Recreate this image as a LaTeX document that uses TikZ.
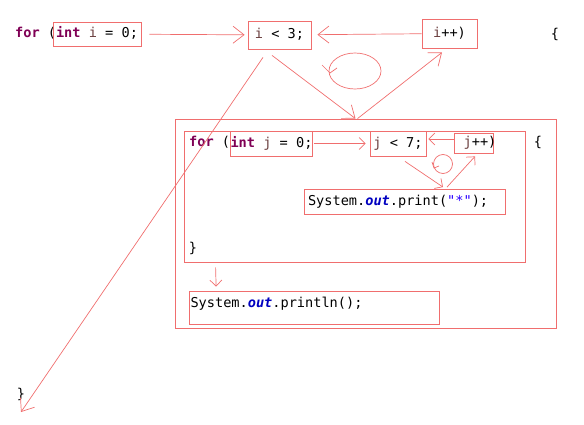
\documentclass[tikz,border=0pt]{standalone}
\usepackage{fontspec}
\setmonofont{DejaVu Sans Mono}
\usetikzlibrary{positioning,arrows.meta}
\definecolor{linered}{RGB}{240,110,110}
\definecolor{kwpurple}{HTML}{7F0055}
\definecolor{varbrown}{HTML}{6A3E3E}
\definecolor{fieldblue}{HTML}{0000C0}
\definecolor{strblue}{HTML}{2A00FF}
\newcommand{\kw}[1]{\textbf{\textcolor{kwpurple}{#1}}}
\newcommand{\jvar}[1]{\textcolor{varbrown}{#1}}
\newcommand{\fld}[1]{\textbf{\textit{\textcolor{fieldblue}{#1}}}}
\newcommand{\jstr}[1]{\textcolor{strblue}{#1}}

\begin{document}
\begin{tikzpicture}[x=1pt,y=-1pt,
  code/.style={font=\fontsize{13.6}{16}\selectfont\ttfamily,text height=11pt,text depth=3pt,inner sep=0pt},
  box/.style={code,draw=linered,line width=0.8pt},
  frame/.style={draw=linered,line width=0.8pt,inner sep=0pt},
  flow/.style={linered,line width=0.7pt,-{Straight Barb[length=11pt,width=17pt]}},
  subflow/.style={linered,line width=0.7pt,-{Straight Barb[length=6pt,width=12pt]}}]
\useasboundingbox (0,0) rectangle (584,425);
\node[frame,minimum width=381pt,minimum height=209pt] (outer) at (365.5,223.5) {};
\node[frame,minimum width=341pt,minimum height=130.5pt] (inner) at (354.5,196.75) {};
\node[code,anchor=west] (forI) at (15,34) {\kw{for} (};
\node[box,minimum width=88pt,minimum height=24pt] (initI) at (97,34) {\kw{int} \jvar{i} = 0;};
\node[box,minimum width=63pt,minimum height=28pt] (condI) at (279.5,35) {\jvar{i} < 3;};
\node[box,minimum width=55pt,minimum height=29pt] (incI) at (449.5,33.5) {\jvar{i}++)};
\node[code] (openI) at (555,35) {\{};
\node[code,anchor=west] (forJ) at (189,143) {\kw{for} (};
\node[box,minimum width=81pt,minimum height=25pt] (initJ) at (271.5,143.5) {\kw{int} \jvar{j} = 0;};
\node[box,minimum width=56pt,minimum height=25pt] (condJ) at (398,143.5) {\jvar{j} < 7;};
\node[frame,minimum width=39pt,minimum height=20pt] (incJ) at (473.5,143) {};
\node[code] (incJtxt) at (480,143) {\jvar{j}++)};
\node[code] (openJ) at (538,143) {\{};
\node[box,align=left,text width=193pt,inner xsep=4pt,minimum height=25pt] (printStar) at (404.5,201.5) {System.\fld{out}.print(\jstr{"*"});};
\node[code] (closeJ) at (193,248) {\}};
\node[box,align=left,text width=248pt,inner xsep=1pt,text depth=11pt,minimum height=33pt] (println) at (314.5,307.5) {System.\fld{out}.println();};
\node[code] (closeI) at (21,394) {\}};
\coordinate (exitI) at (21,412);
\draw[flow,shorten <=8pt,shorten >=3pt] (initI) -- (condI);
\draw[flow,shorten >=6pt] (incI) -- (condI);
\draw[flow] ([xshift=-7.5pt,yshift=-6pt]condI.south) -- ([xshift=-10pt]outer.north);
\draw[flow] ([xshift=-8pt]outer.north) -- ([xshift=-7.5pt,yshift=-4pt]incI.south);
\draw[flow] ([xshift=-16.5pt,yshift=-8pt]condI.south) -- (exitI);
\draw[linered,line width=0.7pt] (355,71) ellipse [x radius=26pt,y radius=18pt];
\draw[linered,line width=0.7pt] (322,65) -- (330,73) -- (337,68);
\draw[subflow,shorten <=1pt,shorten >=4pt] (initJ) -- (condJ);
\draw[subflow] ([yshift=4pt]incJ.west) -- ([xshift=2pt,yshift=4.5pt]condJ.east);
\draw[subflow] ([xshift=7pt,yshift=-5pt]condJ.south) -- ([xshift=38.5pt,yshift=1.5pt]printStar.north);
\draw[subflow] ([xshift=42.5pt,yshift=1.5pt]printStar.north) -- ([xshift=1.5pt,yshift=-3pt]incJ.south);
\draw[linered,line width=0.7pt] (443,164) circle [radius=9.5pt];
\draw[linered,line width=0.7pt] (432,162) -- (434,168) -- (439,166);
\draw[subflow] ([xshift=32pt,yshift=-5pt]inner.south west) -- ([xshift=27pt,yshift=4pt]println.north west);
\end{tikzpicture}
\end{document}
